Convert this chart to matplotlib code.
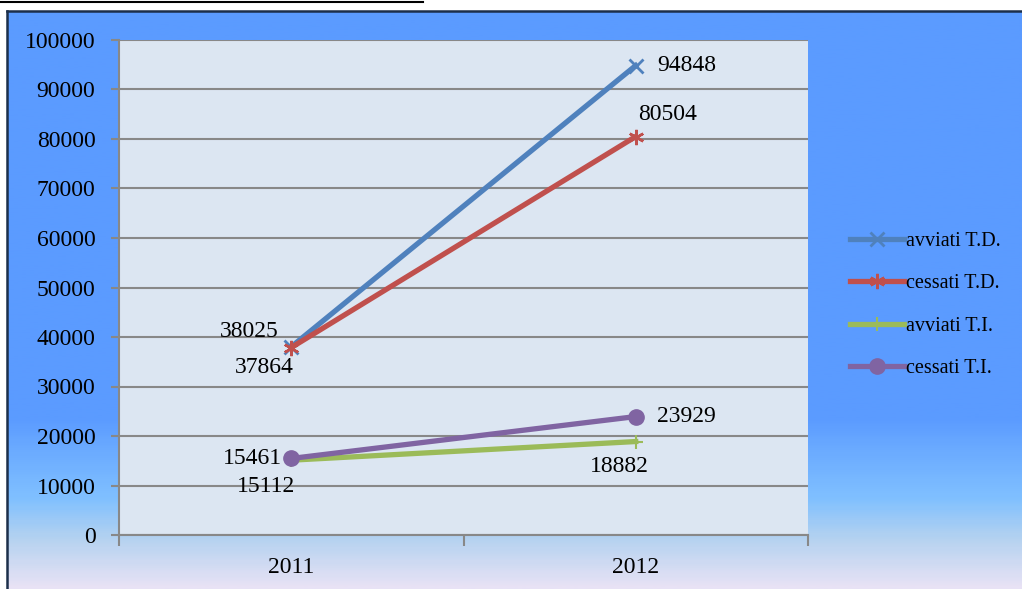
import matplotlib.pyplot as plt
import numpy as np
from matplotlib.colors import LinearSegmentedColormap

# data
years = ["2011", "2012"]
avviati_td = [38025, 94848]
cessati_td = [37864, 80504]
avviati_ti = [15112, 18882]
cessati_ti = [15461, 23929]
y_ticks = [0, 10000, 20000, 30000, 40000, 50000, 60000, 70000, 80000, 90000, 100000]

plt.rcParams['font.family'] = ['Liberation Serif', 'DejaVu Serif']
fs = 17

W, H = 1022, 589
fig = plt.figure(figsize=(W / 100, H / 100), dpi=100)
fig.patch.set_facecolor('white')

# gradient background (chart frame starts at x=7, y=11)
bg = fig.add_axes([7 / W, 0, 1 - 7 / W, 1 - 11 / H], zorder=-5)
stops = [(0.0, '#5b9bff'), ((420 - 11) / (H - 11), '#5b9bff'),
         ((445 - 11) / (H - 11), '#68a8ff'), ((500 - 11) / (H - 11), '#80c0ff'),
         ((540 - 11) / (H - 11), '#b4d2f0'), (1.0, '#e8e2f5')]
cmap = LinearSegmentedColormap.from_list('bgfill', stops)
bg.imshow(np.linspace(0, 1, 300).reshape(-1, 1), aspect='auto', cmap=cmap,
          extent=[0, 1, 0, 1], origin='upper')
bg.set_xlim(0, 1)
bg.set_ylim(0, 1)
bg.axis('off')

# frame lines
fig.add_artist(plt.Line2D([7 / W, 1], [1 - 10.5 / H, 1 - 10.5 / H], color='#1c2f4a', lw=1.8))
fig.add_artist(plt.Line2D([7 / W, 7 / W], [0, 1 - 10.5 / H], color='#1c2f4a', lw=1.8))
fig.add_artist(plt.Line2D([0, 423 / W], [1 - 1.5 / H, 1 - 1.5 / H], color='black', lw=1.5))

ax = fig.add_axes([119 / W, 1 - 535 / H, (808 - 119) / W, (535 - 40) / H])
ax.set_facecolor('#dce6f2')
x = np.arange(len(years))

ax.plot(x, avviati_td, color='#4f81bd', lw=3.8, marker='x', ms=10, mew=2,
        label='avviati T.D.', zorder=3)
ax.plot(x, cessati_td, color='#c0504d', lw=3.8, marker=(6, 2, 0), ms=11, mew=1.8,
        label='cessati T.D.', zorder=4)
ax.plot(x, avviati_ti, color='#9bbb59', lw=3.8, marker='+', ms=10, mew=1.5,
        label='avviati T.I.', zorder=3)
ax.plot(x, cessati_ti, color='#8064a2', lw=3.8, marker='o', ms=11,
        label='cessati T.I.', zorder=4)

# data labels
labels = [
    (0, avviati_td[0], -42, 15, 'center'), (1, avviati_td[1], 22, 0, 'left'),
    (0, cessati_td[0], -27, -20, 'center'), (1, cessati_td[1], 32, 22, 'center'),
    (0, avviati_ti[0], -25, -26, 'center'), (1, avviati_ti[1], -16, -25, 'center'),
    (0, cessati_ti[0], -9, 0, 'right'), (1, cessati_ti[1], 21, 0, 'left'),
]
for xi, v, dx, dy, ha in labels:
    ax.annotate(f"{v}", (xi, v), xytext=(dx, dy), textcoords='offset pixels',
                ha=ha, va='center', fontsize=fs, color='black', zorder=6)

ax.set_xlim(-0.5, 1.5)
ax.set_ylim(0, 100000)
ax.set_yticks(y_ticks)
ax.tick_params(axis='y', labelsize=fs, length=6, width=1.5, color='#888888', pad=11)
ax.set_xticks([-0.5, 0.5, 1.5])
ax.set_xticklabels([])
ax.tick_params(axis='x', which='major', length=8, width=1.5, color='#888888')
ax.set_xticks(x, minor=True)
ax.set_xticklabels(years, minor=True)
ax.tick_params(axis='x', which='minor', length=0, labelsize=fs, pad=16)
ax.grid(axis='y', color='#888888', lw=1.5, zorder=0)
ax.set_axisbelow(True)
for s in ['top', 'right']:
    ax.spines[s].set_visible(False)
for s in ['left', 'bottom']:
    ax.spines[s].set_color('#888888')
    ax.spines[s].set_linewidth(1.5)

fig.legend(loc='center left', bbox_to_anchor=(842 / W, 1 - 305 / H), frameon=False,
           fontsize=14.5, handlelength=2.7, handletextpad=0.1, labelspacing=1.15,
           borderaxespad=0)

fig.savefig('out.png', dpi=100)
